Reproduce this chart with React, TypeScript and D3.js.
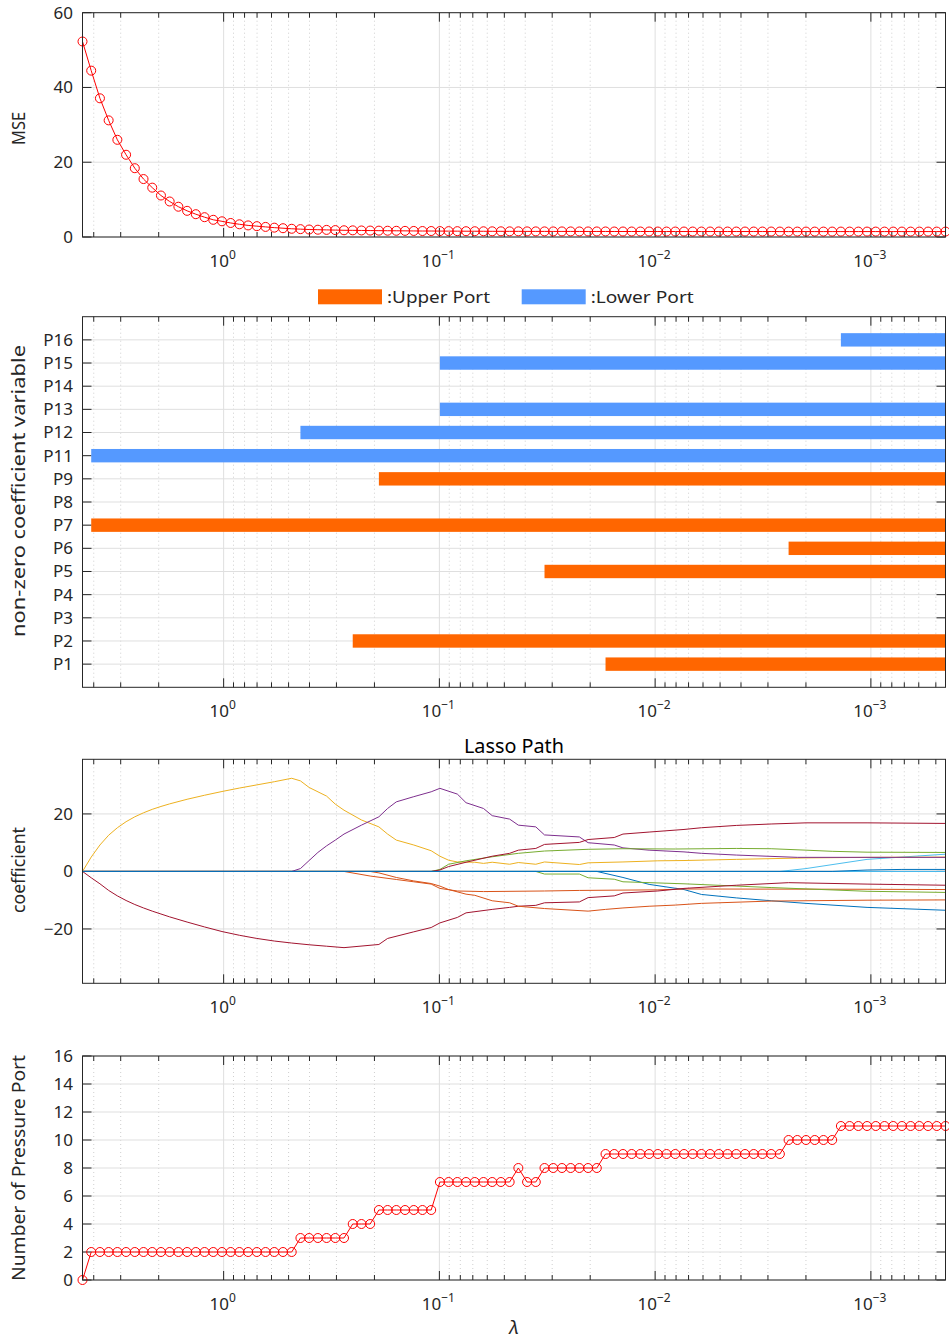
import React from "react";
import * as d3 from "d3";

// ---------------- data ----------------
// lambda grid of the lasso fit (geometric sequence, 100 values, ratio 1e-4)
const N_LAMBDA = 100;
const LAMBDA_MAX = 4.51;
const LAMBDA_MIN_RATIO = 1e-4;
const LAMBDA: number[] = d3
  .range(N_LAMBDA)
  .map((i) => LAMBDA_MAX * Math.pow(LAMBDA_MIN_RATIO, i / (N_LAMBDA - 1)));

const X_TICKS = [1, 0.1, 0.01, 0.001];
const X_TICK_EXP = ["0", "\u22121", "\u22122", "\u22123"];

const MSE = [
  52.3, 44.5, 37.1, 31.2, 26.0, 22.0, 18.4, 15.5, 13.2, 11.1,
  9.5, 8.1, 7.0, 6.1, 5.3, 4.6, 4.2, 3.75, 3.4, 3.1,
  2.9, 2.7, 2.5, 2.35, 2.2, 2.1, 2.0, 1.95, 1.9, 1.85,
  1.8, 1.78, 1.75, 1.72, 1.7, 1.68, 1.66, 1.64, 1.62, 1.6,
  1.6, 1.58, 1.57, 1.56, 1.55, 1.54, 1.53, 1.52, 1.52, 1.51,
  1.51, 1.5, 1.5, 1.5, 1.49, 1.49, 1.49, 1.48, 1.48, 1.48,
  1.48, 1.47, 1.47, 1.47, 1.47, 1.47, 1.46, 1.46, 1.46, 1.46,
  1.46, 1.46, 1.46, 1.46, 1.46, 1.46, 1.46, 1.46, 1.46, 1.46,
  1.45, 1.45, 1.45, 1.45, 1.45, 1.45, 1.45, 1.45, 1.45, 1.45,
  1.45, 1.45, 1.45, 1.45, 1.45, 1.45, 1.45, 1.45, 1.45, 1.45,
];
const MSE_TICKS = [0, 20, 40, 60];

const NUM_PORTS = [
  0, 2, 2, 2, 2, 2, 2, 2, 2, 2,
  2, 2, 2, 2, 2, 2, 2, 2, 2, 2,
  2, 2, 2, 2, 2, 3, 3, 3, 3, 3,
  3, 4, 4, 4, 5, 5, 5, 5, 5, 5,
  5, 7, 7, 7, 7, 7, 7, 7, 7, 7,
  8, 7, 7, 8, 8, 8, 8, 8, 8, 8,
  9, 9, 9, 9, 9, 9, 9, 9, 9, 9,
  9, 9, 9, 9, 9, 9, 9, 9, 9, 9,
  9, 10, 10, 10, 10, 10, 10, 11, 11, 11,
  11, 11, 11, 11, 11, 11, 11, 11, 11, 11,
];
const PORT_TICKS = [0, 2, 4, 6, 8, 10, 12, 14, 16];

// variables (P10 is not part of the model)
const VARIABLES = ["P1", "P2", "P3", "P4", "P5", "P6", "P7", "P8", "P9", "P11", "P12", "P13", "P14", "P15", "P16"];
const PORT_GROUP = ["Upper", "Upper", "Upper", "Upper", "Upper", "Upper", "Upper", "Upper", "Upper", "Lower", "Lower", "Lower", "Lower", "Lower", "Lower"];
// lambda index where each coefficient becomes non-zero (null = never)
const ENTRY_INDEX: (number | null)[] = [60, 31, null, null, 53, 81, 1, null, 34, 1, 25, 41, null, 41, 87];
const LEGEND_GROUPS = ["Upper", "Lower"];
const LEGEND_LABELS = [":Upper Port", ":Lower Port"];

// coefficient paths: [lambda index, coefficient]
const PATH_P1 = [[0, 0], [59, 0], [62, -2.1], [65, -4.5], [69, -6.3], [71, -8.0], [75, -9.2], [79, -10.2], [83, -11.1], [90, -12.5], [99, -13.5]];
const PATH_P2 = [[0, 0], [30, 0], [33, -1.6], [36, -2.8], [38, -3.6], [40, -4.4], [41, -5.9], [43, -6.8], [46, -7.0], [53, -6.8], [57, -6.6], [66, -6.4], [69, -6.1], [90, -6.2], [99, -6.3]];
const PATH_P3 = [[0, 0], [99, 0]];
const PATH_P4 = [[0, 0], [99, 0]];
const PATH_P5 = [[0, 0], [52, 0], [53, -0.9], [57, -0.9], [58, -2.2], [61, -2.7], [62, -3.6], [69, -4.3], [79, -5.6], [90, -6.9], [99, -7.3]];
const PATH_P6 = [[0, 0], [80, 0], [83, 1.0], [90, 4.2], [99, 6.0]];
const PATH_P7 = [[0, 0], [1, -2.2], [2, -4.3], [3, -6.6], [4, -8.5], [5, -10.1], [6, -11.5], [7, -12.7], [8, -13.8], [9, -14.8], [10, -15.8], [12, -17.6], [14, -19.3], [16, -20.9], [18, -22.2], [20, -23.3], [22, -24.2], [24, -24.9], [26, -25.5], [28, -26.0], [30, -26.5], [34, -25.4], [35, -23.3], [38, -21.0], [40, -19.5], [41, -17.9], [43, -16.0], [44, -14.4], [47, -13.2], [49, -12.5], [50, -12.1], [52, -11.8], [53, -10.9], [57, -10.6], [58, -9.1], [61, -8.5], [62, -7.5], [66, -6.8], [69, -5.9], [75, -4.8], [81, -3.9], [90, -4.4], [99, -4.8]];
const PATH_P8 = [[0, 0], [99, 0]];
const PATH_P9 = [[0, 0], [33, 0], [34, -0.5], [36, -2.1], [38, -3.3], [40, -4.2], [41, -5.1], [42, -6.3], [44, -7.9], [45, -8.3], [47, -10.2], [49, -10.9], [50, -12.1], [53, -12.9], [58, -13.8], [60, -13.2], [62, -12.7], [65, -12.1], [68, -11.7], [71, -11.1], [79, -10.3], [90, -10.0], [99, -9.9]];
const PATH_P11 = [[0, 0], [1, 5.0], [2, 9.2], [3, 12.6], [4, 15.2], [5, 17.3], [6, 19.0], [7, 20.4], [8, 21.6], [9, 22.6], [10, 23.5], [12, 25.1], [14, 26.5], [16, 27.8], [18, 29.0], [20, 30.1], [22, 31.2], [24, 32.4], [25, 31.5], [26, 29.2], [28, 26.2], [29, 23.4], [30, 21.3], [32, 17.9], [34, 15.5], [35, 13.0], [36, 10.9], [38, 9.2], [40, 7.2], [41, 5.3], [42, 3.9], [43, 3.3], [45, 3.2], [46, 2.8], [47, 3.2], [49, 2.5], [50, 3.1], [52, 2.5], [53, 3.3], [57, 2.4], [58, 3.0], [62, 3.3], [66, 3.7], [69, 3.8], [75, 4.2], [83, 4.7], [90, 4.9], [99, 5.0]];
const PATH_P12 = [[0, 0], [24, 0], [25, 1.0], [26, 3.8], [27, 6.6], [28, 8.9], [29, 10.9], [30, 13.0], [32, 16.1], [34, 19.0], [35, 21.9], [36, 24.2], [38, 26.0], [40, 27.7], [41, 28.9], [43, 26.9], [44, 23.9], [46, 21.9], [47, 19.4], [49, 18.2], [50, 16.1], [52, 15.5], [53, 12.7], [57, 12.0], [58, 10.0], [61, 9.2], [62, 8.2], [65, 7.4], [69, 6.8], [71, 6.3], [75, 5.7], [82, 4.9], [99, 4.9]];
const PATH_P13 = [[0, 0], [40, 0], [41, 0.7], [42, 2.5], [44, 3.7], [47, 5.1], [50, 6.3], [53, 7.1], [58, 7.7], [62, 7.9], [68, 7.8], [75, 8.0], [79, 7.9], [83, 7.4], [86, 7.0], [90, 6.7], [99, 6.6]];
const PATH_P14 = [[0, 0], [99, 0]];
const PATH_P15 = [[0, 0], [40, 0], [41, 0.5], [42, 1.7], [44, 3.2], [47, 5.3], [49, 6.3], [50, 7.4], [52, 8.0], [53, 9.4], [57, 10.1], [58, 11.1], [61, 11.8], [62, 13.0], [65, 13.7], [69, 14.6], [71, 15.2], [75, 16.0], [79, 16.5], [83, 16.9], [90, 16.9], [99, 16.7]];
const PATH_P16 = [[0, 0], [86, 0], [90, 0.5], [94, 0.7], [99, 0.7]];
const COEF_PATHS = [PATH_P1, PATH_P2, PATH_P3, PATH_P4, PATH_P5, PATH_P6, PATH_P7, PATH_P8, PATH_P9, PATH_P11, PATH_P12, PATH_P13, PATH_P14, PATH_P15, PATH_P16];
const COEF_TICKS = [-20, 0, 20];

// ---------------- styles ----------------
const FONT = "'Noto Sans', 'DejaVu Sans', sans-serif";
const AXIS = "#262626";
const GRID = "#dfdfdf";
const MINOR_GRID = "#cfcfcf";
const LINE_COLORS = ["#0072BD", "#D95319", "#EDB120", "#7E2F8E", "#77AC30", "#4DBEEE", "#A2142F"];
const GROUP_COLORS: Record<string, string> = { Upper: "#FF6600", Lower: "#5599FF" };
const RED = "#FF0000";

const W = 949;
const H = 1340;
const X0 = 82.5;
const X1 = 945.5;
const TICK_MAJOR = 9;
const TICK_MINOR = 5;
const TICK_FONT = 17;

const x = d3.scaleLog().domain([LAMBDA[0], LAMBDA[N_LAMBDA - 1]]).range([X0, X1]);

const MINOR_TICKS: number[] = [];
for (let e = 0; e >= -4; e--) {
  for (let k = 2; k <= 9; k++) {
    const v = k * Math.pow(10, e);
    if (v <= LAMBDA[0] && v >= LAMBDA[N_LAMBDA - 1]) MINOR_TICKS.push(v);
  }
}

type PanelProps = {
  top: number;
  bottom: number;
  y: d3.ScaleLinear<number, number>;
  yTicks: number[];
  yTickLabels: string[];
  yTitle: string;
  yTitleY: number;
  yTitleLen: number;
  children?: React.ReactNode;
};

function Panel({ top, bottom, y, yTicks, yTickLabels, yTitle, yTitleY, yTitleLen, children }: PanelProps) {
  return (
    <g>
      {MINOR_TICKS.map((v, i) => (
        <line key={"mg" + i} x1={x(v)} x2={x(v)} y1={top} y2={bottom} stroke={MINOR_GRID} strokeDasharray="1 3" strokeWidth={1} />
      ))}
      {X_TICKS.map((v, i) => (
        <line key={"g" + i} x1={x(v)} x2={x(v)} y1={top} y2={bottom} stroke={GRID} strokeWidth={1} />
      ))}
      {yTicks.map((v, i) => (
        <line key={"yg" + i} x1={X0} x2={X1} y1={y(v)} y2={y(v)} stroke={GRID} strokeWidth={1} />
      ))}
      {MINOR_TICKS.map((v, i) => (
        <g key={"mt" + i} stroke={AXIS} strokeWidth={1}>
          <line x1={x(v)} x2={x(v)} y1={bottom} y2={bottom - TICK_MINOR} />
          <line x1={x(v)} x2={x(v)} y1={top} y2={top + TICK_MINOR} />
        </g>
      ))}
      {X_TICKS.map((v, i) => (
        <g key={"t" + i} stroke={AXIS} strokeWidth={1}>
          <line x1={x(v)} x2={x(v)} y1={bottom} y2={bottom - TICK_MAJOR} />
          <line x1={x(v)} x2={x(v)} y1={top} y2={top + TICK_MAJOR} />
        </g>
      ))}
      {yTicks.map((v, i) => (
        <g key={"yt" + i} stroke={AXIS} strokeWidth={1}>
          <line x1={X0} x2={X0 + TICK_MAJOR} y1={y(v)} y2={y(v)} />
          <line x1={X1} x2={X1 - TICK_MAJOR} y1={y(v)} y2={y(v)} />
        </g>
      ))}
      {children}
      <rect x={X0} y={top} width={X1 - X0} height={bottom - top} fill="none" stroke={AXIS} strokeWidth={1} />
      {X_TICKS.map((v, i) => (
        <text key={"xl" + i} x={x(v) - 1} y={bottom + 30} textAnchor="middle" fontSize={TICK_FONT} fill={AXIS}>
          10
          <tspan dy={-8} fontSize={12}>
            {X_TICK_EXP[i]}
          </tspan>
        </text>
      ))}
      {yTicks.map((v, i) => (
        <text key={"yl" + i} x={73} y={y(v)} dy="0.35em" textAnchor="end" fontSize={TICK_FONT} fill={AXIS}>
          {yTickLabels[i]}
        </text>
      ))}
      <text
        transform={`translate(24.5, ${yTitleY}) rotate(-90)`}
        textAnchor="middle"
        fontSize={18}
        fill={AXIS}
        textLength={yTitleLen}
        lengthAdjust="spacingAndGlyphs"
      >
        {yTitle}
      </text>
    </g>
  );
}

export default function App() {
  // panel 1 : MSE
  const y1 = d3.scaleLinear().domain([0, 60]).range([237, 12.7]);
  const mseLine = d3
    .line<number>()
    .x((_, i) => x(LAMBDA[i]))
    .y((d) => y1(d));

  // panel 2 : non-zero coefficient variables
  const y2 = d3.scaleLinear().domain([0, 16]).range([687.3, 316.7]);
  const rowPos = VARIABLES.map((_, i) => i + 1);
  const barH = 13.4;

  // panel 3 : lasso path
  const y3 = d3.scaleLinear().domain([-38.9, 39.0]).range([983.3, 759.3]);
  const coefLine = d3
    .line<number[]>()
    .x((d) => x(LAMBDA[d[0]]))
    .y((d) => y3(d[1]));

  // panel 4 : number of ports
  const y4 = d3.scaleLinear().domain([0, 16]).range([1280, 1056]);
  const portLine = d3
    .line<number>()
    .x((_, i) => x(LAMBDA[i]))
    .y((d) => y4(d));

  return (
    <svg width={W} height={H} style={{ position: "absolute", left: 0, top: 0, background: "#fff" }} fontFamily={FONT}>
      <rect x={0} y={0} width={W} height={H} fill="#fff" />

      {/* Panel 1 */}
      <Panel top={12.7} bottom={237} y={y1} yTicks={MSE_TICKS} yTickLabels={MSE_TICKS.map(String)} yTitle="MSE" yTitleY={128.5} yTitleLen={33}>
        <path d={mseLine(MSE) || ""} fill="none" stroke={RED} strokeWidth={1} />
        {MSE.map((d, i) => (
          <circle key={i} cx={x(LAMBDA[i])} cy={y1(d)} r={4.5} fill="none" stroke={RED} strokeWidth={1} />
        ))}
      </Panel>

      {/* Legend */}
      {LEGEND_GROUPS.map((g, i) => {
        const lx = i === 0 ? 318 : 521.7;
        return (
          <g key={g}>
            <rect x={lx} y={289.3} width={64} height={15} fill={GROUP_COLORS[g]} />
            <text x={lx + 69} y={303} fontSize={17} fill={AXIS} textLength={103} lengthAdjust="spacingAndGlyphs">
              {LEGEND_LABELS[i]}
            </text>
          </g>
        );
      })}

      {/* Panel 2 */}
      <Panel top={316.7} bottom={687.3} y={y2} yTicks={rowPos} yTickLabels={VARIABLES} yTitle="non-zero coefficient variable" yTitleY={491} yTitleLen={292}>
        {VARIABLES.map((v, i) => {
          const start = ENTRY_INDEX[i];
          if (start === null) return null;
          const xs = x(LAMBDA[start]);
          const xe = x(LAMBDA[N_LAMBDA - 1]);
          return <rect key={v} x={xs} y={y2(rowPos[i]) - barH / 2} width={xe - xs} height={barH} fill={GROUP_COLORS[PORT_GROUP[i]]} />;
        })}
      </Panel>

      {/* Panel 3 */}
      <text x={(X0 + X1) / 2} y={753} textAnchor="middle" fontSize={19} fill="#000" textLength={100} lengthAdjust="spacingAndGlyphs">
        Lasso Path
      </text>
      <Panel
        top={759.3}
        bottom={983.3}
        y={y3}
        yTicks={COEF_TICKS}
        yTickLabels={COEF_TICKS.map((t) => (t < 0 ? "\u2212" + Math.abs(t) : String(t)))}
        yTitle="coefficient"
        yTitleY={870}
        yTitleLen={86}
      >
        {COEF_PATHS.map((p, i) => (
          <path key={i} d={coefLine(p) || ""} fill="none" stroke={LINE_COLORS[i % LINE_COLORS.length]} strokeWidth={1} />
        ))}
      </Panel>

      {/* Panel 4 */}
      <Panel top={1056} bottom={1280} y={y4} yTicks={PORT_TICKS} yTickLabels={PORT_TICKS.map(String)} yTitle="Number of Pressure Port" yTitleY={1168} yTitleLen={226}>
        <path d={portLine(NUM_PORTS) || ""} fill="none" stroke={RED} strokeWidth={1} />
        {NUM_PORTS.map((d, i) => (
          <circle key={i} cx={x(LAMBDA[i])} cy={y4(d)} r={4.5} fill="none" stroke={RED} strokeWidth={1} />
        ))}
      </Panel>
      <text x={(X0 + X1) / 2} y={1334} textAnchor="middle" fontSize={19} fontStyle="italic" fill={AXIS}>
        λ
      </text>
    </svg>
  );
}
